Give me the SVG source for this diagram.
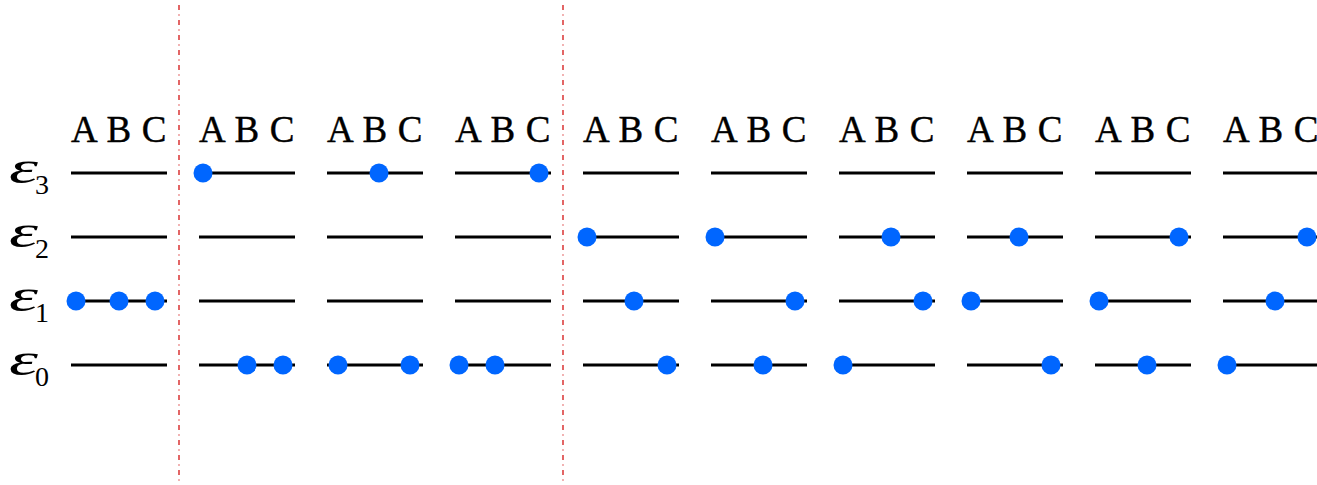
<svg xmlns="http://www.w3.org/2000/svg" width="1317" height="485" viewBox="0 0 1317 485">
<style>
.lv{stroke:#000;stroke-width:3;fill:none}
.dot{fill:#0066ff}
.hdr{font-family:"Liberation Serif","Times New Roman",serif;font-size:37px;word-spacing:1.5px;fill:#000;stroke:#000;stroke-width:0.4}
.eps{font-family:"Liberation Serif","Times New Roman",serif;font-style:italic;font-size:47px;fill:#000}
.sub{font-family:"Liberation Serif","Times New Roman",serif;font-size:28px;fill:#000}
.sep{stroke:#d00000;stroke-width:1.2;stroke-dasharray:5,4.5,1,4.5;fill:none}
</style>
<defs>
<g id="levels">
<line class="lv" x1="0" y1="173" x2="96" y2="173"/>
<line class="lv" x1="0" y1="237" x2="96" y2="237"/>
<line class="lv" x1="0" y1="301" x2="96" y2="301"/>
<line class="lv" x1="0" y1="365" x2="96" y2="365"/>
<text class="hdr" x="0" y="142">A B C</text>
</g>
</defs>
<g id="energy-labels">
<text class="eps" x="9" y="183" textLength="29" lengthAdjust="spacingAndGlyphs">ε</text><text class="sub" x="35" y="194">3</text>
<text class="eps" x="9" y="247" textLength="29" lengthAdjust="spacingAndGlyphs">ε</text><text class="sub" x="35" y="258">2</text>
<text class="eps" x="9" y="311" textLength="29" lengthAdjust="spacingAndGlyphs">ε</text><text class="sub" x="35" y="322">1</text>
<text class="eps" x="9" y="375" textLength="29" lengthAdjust="spacingAndGlyphs">ε</text><text class="sub" x="35" y="386">0</text>
</g>
<g id="separators">
<line class="sep" x1="179" y1="5" x2="179" y2="482"/>
<line class="sep" x1="563" y1="5" x2="563" y2="482"/>
</g>
<g id="col1"><use href="#levels" x="71"/>
<circle class="dot" cx="76" cy="301" r="9.5"/><circle class="dot" cx="119" cy="301" r="9.5"/><circle class="dot" cx="155" cy="301" r="9.5"/></g>
<g id="col2"><use href="#levels" x="199"/>
<circle class="dot" cx="203" cy="173" r="9.5"/><circle class="dot" cx="247" cy="365" r="9.5"/><circle class="dot" cx="283" cy="365" r="9.5"/></g>
<g id="col3"><use href="#levels" x="327"/>
<circle class="dot" cx="379" cy="173" r="9.5"/><circle class="dot" cx="338" cy="365" r="9.5"/><circle class="dot" cx="410" cy="365" r="9.5"/></g>
<g id="col4"><use href="#levels" x="455"/>
<circle class="dot" cx="539" cy="173" r="9.5"/><circle class="dot" cx="459" cy="365" r="9.5"/><circle class="dot" cx="495" cy="365" r="9.5"/></g>
<g id="col5"><use href="#levels" x="583"/>
<circle class="dot" cx="587" cy="237" r="9.5"/><circle class="dot" cx="634" cy="301" r="9.5"/><circle class="dot" cx="667" cy="365" r="9.5"/></g>
<g id="col6"><use href="#levels" x="711"/>
<circle class="dot" cx="715" cy="237" r="9.5"/><circle class="dot" cx="795" cy="301" r="9.5"/><circle class="dot" cx="763" cy="365" r="9.5"/></g>
<g id="col7"><use href="#levels" x="839"/>
<circle class="dot" cx="891" cy="237" r="9.5"/><circle class="dot" cx="923" cy="301" r="9.5"/><circle class="dot" cx="843" cy="365" r="9.5"/></g>
<g id="col8"><use href="#levels" x="967"/>
<circle class="dot" cx="1019" cy="237" r="9.5"/><circle class="dot" cx="971" cy="301" r="9.5"/><circle class="dot" cx="1051" cy="365" r="9.5"/></g>
<g id="col9"><use href="#levels" x="1095"/>
<circle class="dot" cx="1179" cy="237" r="9.5"/><circle class="dot" cx="1099" cy="301" r="9.5"/><circle class="dot" cx="1147" cy="365" r="9.5"/></g>
<g id="col10"><use href="#levels" x="1223"/>
<circle class="dot" cx="1307" cy="237" r="9.5"/><circle class="dot" cx="1275" cy="301" r="9.5"/><circle class="dot" cx="1227" cy="365" r="9.5"/></g>
</svg>
